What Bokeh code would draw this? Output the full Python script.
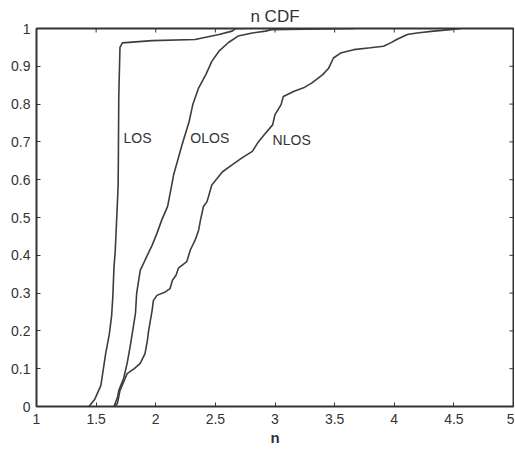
import math
from bokeh.plotting import figure
from bokeh.models import Range1d, FixedTicker, ColumnDataSource
from bokeh.core.properties import value
from bokeh.embed import file_html
from bokeh.resources import INLINE

# ---- data ----
los_x = [1.44, 1.49, 1.54, 1.58, 1.61, 1.63, 1.64, 1.65, 1.66, 1.68, 1.685, 1.69, 1.70, 1.72, 1.97, 2.33, 2.42, 2.53, 2.64, 2.67, 2.75]
los_y = [0.0, 0.02, 0.056, 0.14, 0.19, 0.24, 0.29, 0.37, 0.41, 0.55, 0.59, 0.82, 0.95, 0.962, 0.968, 0.971, 0.977, 0.984, 0.993, 1.0, 1.0]

olos_x = [1.65, 1.68, 1.69, 1.73, 1.76, 1.79, 1.83, 1.84, 1.87, 1.91, 1.97, 2.01, 2.05, 2.10, 2.15, 2.22, 2.28, 2.31, 2.36, 2.42, 2.47, 2.53, 2.61, 2.69, 2.81, 2.92, 2.97, 3.66]
olos_y = [0.0, 0.025, 0.042, 0.074, 0.114, 0.167, 0.247, 0.30, 0.36, 0.387, 0.427, 0.458, 0.493, 0.53, 0.613, 0.692, 0.754, 0.798, 0.843, 0.878, 0.913, 0.94, 0.963, 0.98, 0.988, 0.993, 0.997, 1.0]

nlos_x = [1.66, 1.68, 1.70, 1.73, 1.76, 1.82, 1.87, 1.91, 1.93, 1.94, 1.97, 1.98, 2.01, 2.08, 2.12, 2.14, 2.17, 2.19, 2.26, 2.29, 2.33, 2.36, 2.375, 2.40, 2.43, 2.47, 2.56, 2.64, 2.72, 2.81, 2.86, 2.92, 2.98, 3.00, 3.05, 3.07, 3.16, 3.24, 3.31, 3.40, 3.45, 3.49, 3.55, 3.66, 3.80, 3.91, 3.97, 4.02, 4.11, 4.19, 4.33, 4.47, 4.56]
nlos_y = [0.0, 0.01, 0.042, 0.064, 0.087, 0.10, 0.114, 0.14, 0.175, 0.20, 0.255, 0.28, 0.294, 0.303, 0.312, 0.334, 0.347, 0.366, 0.383, 0.414, 0.44, 0.467, 0.493, 0.529, 0.542, 0.586, 0.621, 0.639, 0.657, 0.675, 0.70, 0.723, 0.745, 0.772, 0.798, 0.82, 0.834, 0.843, 0.856, 0.878, 0.895, 0.922, 0.935, 0.944, 0.949, 0.953, 0.962, 0.971, 0.984, 0.988, 0.993, 0.997, 1.0]

curve_names = ["LOS", "OLOS", "NLOS"]
name_x = [1.73, 2.29, 2.98]
name_y = [0.71, 0.71, 0.705]

x_ticks = [1, 1.5, 2, 2.5, 3, 3.5, 4, 4.5, 5]
x_tick_labels = ["1", "1.5", "2", "2.5", "3", "3.5", "4", "4.5", "5"]
y_ticks = [0, 0.1, 0.2, 0.3, 0.4, 0.5, 0.6, 0.7, 0.8, 0.9, 1]
y_tick_labels = ["0", "0.1", "0.2", "0.3", "0.4", "0.5", "0.6", "0.7", "0.8", "0.9", "1"]

X_MIN, X_MAX = 1, 5
Y_MIN, Y_MAX = 0, 1

FONT = "Liberation Sans"
INK = "#333333"
LINE = "#3d3d3d"

p = figure(frame_width=477, frame_height=378,
           x_range=Range1d(X_MIN, X_MAX), y_range=Range1d(Y_MIN, Y_MAX),
           output_backend="svg", toolbar_location=None,
           min_border=0, min_border_left=36, min_border_right=1,
           min_border_top=28, min_border_bottom=43,
           title="n CDF")

p.title.align = "center"
p.title.text_font = FONT
p.title.text_font_size = "17px"
p.title.text_font_style = "normal"
p.title.text_color = INK
p.title.standoff = 6

p.grid.visible = False
p.outline_line_color = INK
p.outline_line_width = 2
p.background_fill_color = "white"
p.border_fill_color = "white"

for ax in (p.xaxis[0], p.yaxis[0]):
    ax.axis_line_color = None
    ax.major_tick_in = 4
    ax.major_tick_out = 0
    ax.major_tick_line_color = INK
    ax.minor_tick_line_color = None
    ax.major_label_text_font = FONT
    ax.major_label_text_font_size = "14px"
    ax.major_label_text_color = INK

p.xaxis[0].ticker = FixedTicker(ticks=x_ticks)
p.xaxis[0].major_label_overrides = dict(zip(x_ticks, x_tick_labels))
p.xaxis[0].major_label_standoff = 7
p.xaxis[0].axis_label = "n"
p.xaxis[0].axis_label_text_font = FONT
p.xaxis[0].axis_label_text_font_size = "15px"
p.xaxis[0].axis_label_text_font_style = "bold"
p.xaxis[0].axis_label_text_color = INK
p.xaxis[0].axis_label_standoff = 2

p.yaxis[0].ticker = FixedTicker(ticks=y_ticks)
p.yaxis[0].major_label_overrides = dict(zip(y_ticks, y_tick_labels))
p.yaxis[0].major_label_standoff = 6

# inward tick marks on the top and right edges of the frame (clipped to frame)
p.scatter(x=x_ticks, y=[Y_MAX] * len(x_ticks), marker="dash", angle=math.pi / 2,
          size=8, line_color=INK, line_width=1)
p.scatter(x=[X_MAX] * len(y_ticks), y=y_ticks, marker="dash",
          size=8, line_color=INK, line_width=1)

p.line(los_x, los_y, line_color=LINE, line_width=1.6)
p.line(olos_x, olos_y, line_color=LINE, line_width=1.6)
p.line(nlos_x, nlos_y, line_color=LINE, line_width=1.6)

src = ColumnDataSource(dict(x=name_x, y=name_y, t=curve_names))
p.text(x="x", y="y", text="t", source=src, text_font=value(FONT),
       text_font_size="14px", text_color=INK, text_baseline="middle",
       text_align="left")

open("out.html", "w").write(file_html(p, INLINE))
